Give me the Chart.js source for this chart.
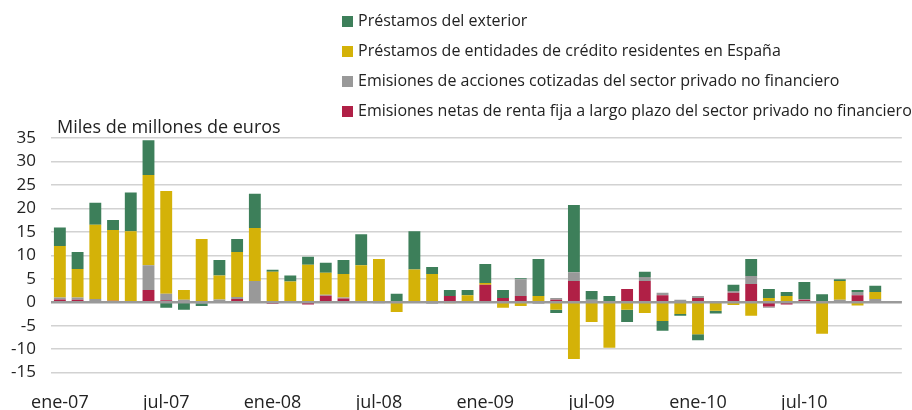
<!DOCTYPE html>
<html>
<head>
<meta charset="utf-8">
<script src="https://cdn.jsdelivr.net/npm/chart.js@4"></script>
<style>
  body { margin: 0; background: #fff; }
  #wrap { position: relative; width: 912px; height: 410px; }
  #legend { position: absolute; left: 342px; top: 8px; font-family: "Open Sans", sans-serif; font-size: 16px; color: #222; }
  #legend div { height: 30px; line-height: 24px; white-space: nowrap; }
  #legend span { display: inline-block; width: 11px; height: 11px; margin-right: 5px; vertical-align: -1px; }
</style>
</head>
<body>
<div id="wrap">
  <canvas id="myChart" width="912" height="410"></canvas>
  <div id="legend"></div>
</div>
<script>
// months ene-07 .. dic-10
const months = ["ene", "feb", "mar", "abr", "may", "jun", "jul", "ago", "sep", "oct", "nov", "dic"];
const years = ["07", "08", "09", "10"];
const labels = [];
years.forEach((y) => months.forEach((m) => labels.push(m + "-" + y)));

const yTicks = [-15, -10, -5, 0, 5, 10, 15, 20, 25, 30, 35];

// Miles de millones de euros
const rentaFija = [0.6, 0.5, 0.2, 0.3, 0.1, 2.6, 0.4, 0, 0, 0, 0.7, 0,
  -0.3, 0, -0.5, 1.4, 0.8, 0, 0, 0, 0, 0, 1.3, 0,
  3.7, 0.9, 1.3, 0, 0.5, 4.5, 0, 0, 2.8, 4.5, 1.5, 0,
  0.9, 0, 2.0, 3.9, -0.9, -0.5, 0.5, 0, 0, 1.5, 0, null];
const acciones = [0.4, 0.5, 0.5, 0, 0, 5.3, 1.4, 0.5, -0.2, 0.6, 0.4, 4.5,
  0.2, 0.2, 0.1, 0.2, 0.2, 0, -0.2, 0.2, 0, -0.3, 0, 0,
  0, 0, 3.6, -0.3, 0.4, 1.9, 0.5, 0.2, 0, 0.9, 0.5, 0.5,
  0.4, 0, 0.4, 1.7, -0.3, 0, 0.2, 0.2, 0.5, 0.7, 0.7, null];
const prestamosEntidades = [11.0, 6.1, 15.8, 15.1, 15.0, 19.2, 21.9, 2.1, 13.5, 5.1, 9.6, 11.3,
  6.3, 4.2, 7.9, 4.7, 5.0, 7.9, 9.2, -2.1, 7.0, 6.0, -0.2, 1.5,
  0.4, -1.2, -0.8, 1.3, -1.6, -12.1, -4.2, -9.7, -1.6, -2.3, -4.0, -2.5,
  -6.8, -1.8, -0.6, -2.9, 0.9, 1.3, 0, -6.7, 4.0, -0.7, 1.5, null];
const prestamosExterior = [3.9, 3.6, 4.7, 2.1, 8.3, 7.4, -1.2, -1.6, -0.6, 3.3, 2.8, 7.3,
  0.4, 1.3, 1.7, 2.1, 3.0, 6.6, 0, 1.6, 8.1, 1.5, 1.3, 1.1,
  4.05, 1.7, 0.2, 7.9, -0.7, 14.3, 1.9, 1.1, -2.6, 1.1, -2.1, -0.4,
  -1.3, -0.6, 1.3, 3.6, 1.9, 0.9, 3.6, 1.5, 0.4, 0.4, 1.3, null];

const font = "'Open Sans', sans-serif";

const datasets = [
  { label: "Emisiones netas de renta fija a largo plazo del sector privado no financiero", data: rentaFija, backgroundColor: "#b02046" },
  { label: "Emisiones de acciones cotizadas del sector privado no financiero", data: acciones, backgroundColor: "#999999" },
  { label: "Préstamos de entidades de crédito residentes en España", data: prestamosEntidades, backgroundColor: "#d4b208" },
  { label: "Préstamos del exterior", data: prestamosExterior, backgroundColor: "#3d7f5a" },
];
datasets.forEach((d) => {
  d.barPercentage = 0.67;
  d.categoryPercentage = 1;
});

// legend, top to bottom = reverse of stack order
const legend = document.getElementById("legend");
datasets.slice().reverse().forEach((d) => {
  const row = document.createElement("div");
  const box = document.createElement("span");
  box.style.background = d.backgroundColor;
  row.appendChild(box);
  row.appendChild(document.createTextNode(d.label));
  legend.appendChild(row);
});

const extras = {
  id: "extras",
  afterDatasetsDraw(chart) {
    const c = chart.ctx;
    const y = chart.scales.y.getPixelForValue(0);
    c.save();
    c.strokeStyle = "#9a9a9a";
    c.lineWidth = 2.5;
    c.beginPath();
    c.moveTo(chart.chartArea.left, y);
    c.lineTo(chart.chartArea.right, y);
    c.stroke();
    c.fillStyle = "#222";
    c.font = "18px " + font;
    c.textBaseline = "middle";
    c.fillText("Miles de millones de euros", 57, 128);
    c.restore();
  },
};

const ctx = document.getElementById("myChart").getContext("2d");
const myChart = new Chart(ctx, {
  type: "bar",
  data: { labels: labels, datasets: datasets },
  plugins: [extras],
  options: {
    responsive: false,
    animation: false,
    devicePixelRatio: 1,
    layout: { padding: { top: 138, left: 0, right: 1, bottom: 0 } },
    plugins: { legend: { display: false }, tooltip: { enabled: false } },
    scales: {
      x: {
        stacked: true,
        afterFit: (axis) => { axis.height = 37.4; },
        grid: { display: false, drawTicks: false },
        border: { display: false },
        ticks: {
          autoSkip: false,
          maxRotation: 0,
          padding: 19,
          color: "#222",
          font: { family: font, size: 18 },
          callback: (v, i) => (i % 6 === 0 ? labels[i] : ""),
        },
      },
      y: {
        stacked: true,
        min: -15,
        max: 35,
        afterFit: (axis) => { axis.width = 51; },
        afterBuildTicks: (axis) => { axis.ticks = yTicks.map((v) => ({ value: v })); },
        grid: { color: "#d2d2d2", lineWidth: 1.5, drawTicks: false },
        border: { display: false },
        ticks: { autoSkip: false, padding: 15, color: "#222", font: { family: font, size: 17 } },
      },
    },
  },
});
</script>
</body>
</html>
